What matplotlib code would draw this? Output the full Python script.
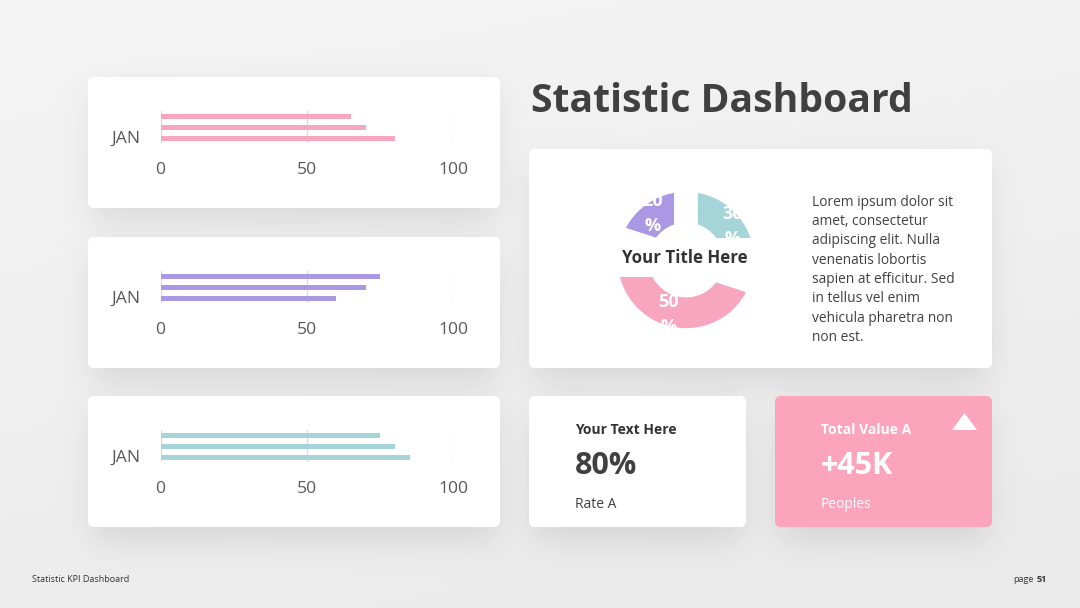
import numpy as np
import matplotlib.pyplot as plt
from matplotlib.patches import FancyBboxPatch, Rectangle, Polygon

plt.rcParams['font.family'] = ['Open Sans', 'DejaVu Sans']

# data
bar_ticks = [0, 50, 100]
month = "JAN"
pink_vals = [65, 70, 80]      # bars top to bottom
purple_vals = [75, 70, 60]
teal_vals = [75, 80, 85]
donut_vals = [20, 50, 30]     # purple, pink, teal
kpi_rate = "80%"
kpi_total = "+45K"
lorem = ["Lorem ipsum dolor sit", "amet, consectetur", "adipiscing elit. Nulla",
         "venenatis lobortis", "sapien at efficitur. Sed", "in tellus vel enim",
         "vehicula pharetra non", "non est."]

PINK = '#f8a6bf'
PURPLE = '#ab98e4'
TEAL = '#a5d4d9'
DARK = '#404040'
GREY = '#595959'

W, H = 1080, 608
fig = plt.figure(figsize=(10.8, 6.08), dpi=100)

# background with soft card shadows
bg = fig.add_axes([0, 0, 1, 1])
bg.axis('off')
cards = [(88, 77, 412, 131), (88, 237, 412, 131), (88, 396, 412, 131),
         (529, 149, 463, 219), (529, 396, 217, 131), (775, 396, 217, 131)]

yy, xx = np.mgrid[0:H, 0:W]
base = 0.955 - 0.03 * (yy / H) - 0.01 * (xx / W)
mask = np.zeros((H, W))
for x, y, w, h in cards:
    mask[y + 14:y + h + 14, x + 4:x + w - 4] = 1.0


def gblur(a, s):
    k = np.exp(-0.5 * (np.arange(-3 * s, 3 * s + 1) / s) ** 2)
    k /= k.sum()
    a = np.apply_along_axis(lambda r: np.convolve(r, k, mode='same'), 1, a)
    a = np.apply_along_axis(lambda r: np.convolve(r, k, mode='same'), 0, a)
    return a


shadow = gblur(mask, 16)
bg.imshow(base - 0.09 * shadow, cmap='gray', vmin=0, vmax=1,
          extent=(0, W, H, 0), interpolation='bilinear', aspect='auto', zorder=0)
bg.set_xlim(0, W)
bg.set_ylim(H, 0)

for i, (x, y, w, h) in enumerate(cards):
    fc = '#fba4bb' if i == 5 else 'white'
    bg.add_patch(FancyBboxPatch((x, y), w, h, boxstyle="round,pad=0,rounding_size=6",
                                fc=fc, ec='none', zorder=2))


def bar_panel(card_top, vals, color):
    ax = fig.add_axes([160.5 / W, 1 - (card_top + 66) / H, 293 / W, 32 / H])
    ax.patch.set_alpha(0)
    for t in bar_ticks:
        ax.axvline(t, color='#d9d9d9', lw=0.9, zorder=1)
    ax.barh(range(len(vals)), vals, height=0.45, color=color, zorder=2)
    ax.set_xlim(0, 100)
    ax.set_ylim(-0.5 + 32 / 11, -0.5)
    ax.set_xticks(bar_ticks)
    ax.set_yticks([])
    ax.tick_params(length=0, pad=14, labelsize=12.6, labelcolor=GREY)
    for s in ax.spines.values():
        s.set_visible(False)
    ax.text(-0.0666, 0.12, month, transform=ax.transAxes, ha='right', va='center',
            fontsize=12.6, color=GREY)


bar_panel(77, pink_vals, PINK)
bar_panel(237, purple_vals, PURPLE)
bar_panel(396, teal_vals, TEAL)

# donut
cx, cy, R = 686, 260, 80
dax = fig.add_axes([(cx - R) / W, 1 - (cy + R) / H, 2 * R / W, 2 * R / H])
dax.pie(donut_vals, colors=[PURPLE, PINK, TEAL], startangle=90, radius=1,
        wedgeprops=dict(width=0.68, edgecolor='white', linewidth=17),
        autopct=lambda p: f"{p:.0f}\n%", pctdistance=0.72,
        textprops=dict(color='white', fontsize=13, fontweight='bold', linespacing=1.5))
dax.set_xlim(-1, 1)
dax.set_ylim(-1, 1)

# overlay for text
top = fig.add_axes([0, 0, 1, 1], zorder=10)
top.set_xlim(0, W)
top.set_ylim(H, 0)
top.axis('off')

top.text(531, 101, "Statistic Dashboard", fontsize=28.2, fontweight='bold',
         color=DARK, ha='left', va='center')

top.add_patch(Rectangle((616, 238), 158, 39, fc='white', ec='none'))
top.text(622, 258, "Your Title Here", fontsize=12.2, fontweight='bold',
         color='#333333', ha='left', va='center')

for i, line in enumerate(lorem):
    top.text(812, 202 + i * 19.4, line, fontsize=9.9, color=DARK, ha='left', va='center')

top.text(575, 430, "Your Text Here", fontsize=10, fontweight='bold', color='#333333',
         ha='left', va='center')
top.text(575, 466, kpi_rate, fontsize=22, fontweight='bold', color=DARK,
         ha='left', va='center')
top.text(575, 505, "Rate A", fontsize=10, color=DARK, ha='left', va='center')

top.text(821, 430, "Total Value A", fontsize=10, fontweight='bold', color='white',
         ha='left', va='center')
top.text(821, 466, kpi_total, fontsize=22, fontweight='bold', color='white',
         ha='left', va='center')
top.text(821, 505, "Peoples", fontsize=10, color='white', ha='left', va='center')
top.add_patch(Polygon([(952, 430), (977, 430), (964.5, 413)], closed=True,
                      fc='white', ec='none'))

top.text(32, 579, "Statistic KPI Dashboard", fontsize=6.5, color='#333333',
         ha='left', va='center')
top.text(1034, 579, "page", fontsize=6.5, color='#333333', ha='right', va='center')
top.text(1037, 579, "51", fontsize=6.5, fontweight='bold', color='#333333',
         ha='left', va='center')

fig.savefig("out.png", dpi=100)
